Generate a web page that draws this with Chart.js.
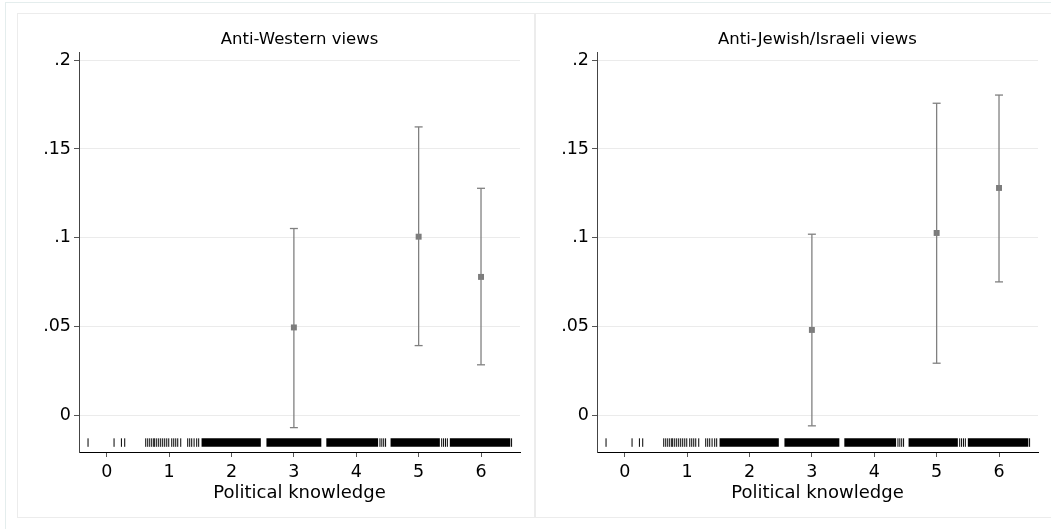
<!DOCTYPE html>
<html>
<head>
<meta charset="utf-8">
<script src="https://cdn.jsdelivr.net/npm/chart.js@4.4.1/dist/chart.umd.min.js"></script>
<style>
  html, body { margin: 0; padding: 0; background: #fff; width: 1051px; height: 529px; overflow: hidden; }
  #outer { position: absolute; left: 5px; top: 2px; width: 1100px; height: 540px; border: 1px solid #e4eded; box-sizing: border-box; }
  .panel { position: absolute; top: 13px; width: 518px; height: 505px; box-sizing: border-box; border: 1px solid #ececec; background: #fff; }
  .panel canvas { position: absolute; left: -1px; top: -1px; }
  #p1 { left: 17px; }
  #p2 { left: 535px; }
</style>
</head>
<body>
<div id="outer"></div>
<div class="panel" id="p1"><canvas id="c1" width="518" height="505"></canvas></div>
<div class="panel" id="p2"><canvas id="c2" width="518" height="505"></canvas></div>
<script>
// ---- data ----
const xTicks = [0, 1, 2, 3, 4, 5, 6];
const yTicks = [0, 0.05, 0.1, 0.15, 0.2];
const yTickLabels = ['0', '.05', '.1', '.15', '.2'];
const panelTitles = ['Anti-Western views', 'Anti-Jewish/Israeli views'];
const xAxisTitle = 'Political knowledge';

const knowledgeLevels = [3, 5, 6];
const westernEst = [0.0497, 0.1007, 0.0781];
const westernLo  = [-0.0066, 0.0395, 0.0287];
const westernHi  = [0.1053, 0.1624, 0.1279];
const jewishEst  = [0.0483, 0.1028, 0.1281];
const jewishLo   = [-0.0056, 0.0296, 0.0753];
const jewishHi   = [0.1021, 0.1757, 0.1803];

// rug of observed political knowledge values (isolated marks and solid runs)
const rugTicks = [-0.30, 0.117, 0.235, 0.288, 0.625, 0.657, 0.689, 0.721, 0.753, 0.769, 0.801, 0.833, 0.865,
  0.897, 0.929, 0.962, 0.994, 1.042, 1.074, 1.106, 1.138, 1.186, 1.298, 1.33, 1.362, 1.40, 1.442, 1.474,
  4.38, 4.41, 4.44, 4.47, 5.37, 5.40, 5.43, 5.46, 6.49];
const rugRuns = [[1.52, 2.47], [2.56, 3.44], [3.52, 4.35], [4.55, 5.34], [5.50, 6.47]];
const rugLevel = -0.015;

const X_MIN = -0.445, X_MAX = 6.625;
const Y_MIN = -0.0203, Y_MAX = 0.2045;

// ---- styling ----
const FONT = 'DejaVu Sans';
const BAR_COLOR = '#808080';

function buildDatasets(est, lo, hi) {
  const ds = [];
  rugRuns.forEach(r => ds.push({
    data: [{x: r[0], y: rugLevel}, {x: r[1], y: rugLevel}],
    showLine: true, borderColor: '#000', borderWidth: 8.5, borderCapStyle: 'butt',
    pointRadius: 0
  }));
  ds.push({
    data: rugTicks.map(v => ({x: v, y: rugLevel})),
    pointStyle: 'line', rotation: 90, pointRadius: 4.25, borderWidth: 1,
    borderColor: '#000', backgroundColor: '#000'
  });
  knowledgeLevels.forEach((k, i) => {
    ds.push({
      data: [{x: k, y: lo[i]}, {x: k, y: hi[i]}],
      showLine: true, borderColor: BAR_COLOR, borderWidth: 1.3, pointRadius: 0
    });
    ds.push({
      data: [{x: k, y: lo[i]}, {x: k, y: hi[i]}],
      pointStyle: 'line', pointRadius: 4, borderWidth: 1.3, borderColor: BAR_COLOR
    });
  });
  ds.push({
    data: knowledgeLevels.map((k, i) => ({x: k, y: est[i]})),
    pointStyle: 'rect', pointRadius: 4.2, borderWidth: 0, backgroundColor: '#7c7c7c'
  });
  return ds;
}

function makeChart(id, title, est, lo, hi) {
  return new Chart(document.getElementById(id), {
    type: 'scatter',
    data: { datasets: buildDatasets(est, lo, hi) },
    options: {
      responsive: false,
      animation: false,
      events: [],
      layout: { padding: { left: 0, right: 15, top: 0, bottom: 0 } },
      plugins: {
        legend: { display: false },
        tooltip: { enabled: false },
        title: {
          display: true, text: title, fullSize: false, color: '#000',
          font: { family: FONT, size: 16.5, weight: 'normal' },
          padding: { top: 16.5, bottom: 2.7 }
        }
      },
      scales: {
        x: {
          type: 'linear', min: X_MIN, max: X_MAX,
          afterBuildTicks: s => { s.ticks = xTicks.map(v => ({value: v})); },
          afterFit: s => { s.height = 66; },
          grid: { drawOnChartArea: false, tickLength: 5, tickColor: '#555', lineWidth: 1 },
          border: { display: true, color: '#000', width: 1 },
          ticks: { color: '#000', font: { family: FONT, size: 17.5 }, padding: 5, maxRotation: 0,
                   callback: v => String(v) },
          title: { display: true, text: xAxisTitle, color: '#000',
                   font: { family: FONT, size: 18 }, padding: { top: 0, bottom: 14 } }
        },
        y: {
          type: 'linear', min: Y_MIN, max: Y_MAX,
          afterBuildTicks: s => { s.ticks = yTicks.map(v => ({value: v})); },
          afterFit: s => { s.width = 62; },
          grid: { drawOnChartArea: true, color: '#ebebeb', lineWidth: 1, tickLength: 5, tickColor: '#555' },
          border: { display: true, color: '#444', width: 1 },
          ticks: { color: '#000', font: { family: FONT, size: 17.5 }, padding: 3,
                   callback: (v, i) => yTickLabels[i] }
        }
      }
    }
  });
}

makeChart('c1', panelTitles[0], westernEst, westernLo, westernHi);
makeChart('c2', panelTitles[1], jewishEst, jewishLo, jewishHi);
</script>
</body>
</html>
